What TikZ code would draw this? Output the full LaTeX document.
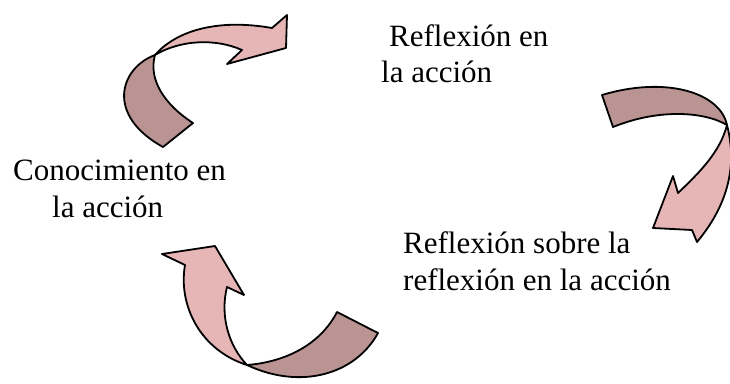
\documentclass[tikz,border=0pt]{standalone}
\usepackage{fontspec}
\setmainfont{Liberation Serif}
\usepackage{tikz}
\definecolor{bandlight}{RGB}{230,181,181}
\definecolor{banddark}{RGB}{186,148,146}
\begin{document}
\begin{tikzpicture}[x=1pt,y=-1pt,
  lab/.style={anchor=base west,inner sep=0pt,font=\fontsize{31}{37}\selectfont},
  front/.style={fill=bandlight,draw=black,line width=1.8pt,line join=round},
  back/.style={fill=banddark,draw=black,line width=1.8pt,line join=round}]
\useasboundingbox (0,0) rectangle (730,383);
\draw [back] (155,55) .. controls (120,68) and (105,115) .. (163,147) -- (193,123) .. controls (165,105) and (148,80) .. (155,55) -- cycle;
\draw [front] (155,55) .. controls (175,32) and (215,18) .. (272,28) -- (287,15) -- (286,48) -- (227,64) -- (242,50) .. controls (215,38) and (180,40) .. (155,55) -- cycle;
\draw [back] (727,125) .. controls (720,92) and (665,76) .. (602,95) -- (613,127) .. controls (660,108) and (705,112) .. (727,125) -- cycle;
\draw [front] (727,125) .. controls (736,160) and (732,200) .. (697,242) -- (692,230) -- (653,228) -- (673,176) -- (678,193) .. controls (700,172) and (720,152) .. (727,125) -- cycle;
\draw [back] (247,365) .. controls (285,362) and (320,345) .. (337,312) -- (378,333) .. controls (355,375) and (300,390) .. (247,365) -- cycle;
\draw [front] (185,265) -- (162,254) -- (215,246) -- (244,295) -- (227,287) .. controls (220,315) and (228,345) .. (247,365) .. controls (200,350) and (178,305) .. (185,265) -- cycle;
\node [lab] (refa) at (389,46) {Reflexión en};
\node [lab] (refb) at (381,82) {la acción};
\node [lab] (cona) at (13,180) {Conocimiento en};
\node [lab] (conb) at (52,217) {la acción};
\node [lab] (metaa) at (403,253) {Reflexión sobre la};
\node [lab] (metab) at (403,290) {reflexión en la acción};
\end{tikzpicture}
\end{document}
